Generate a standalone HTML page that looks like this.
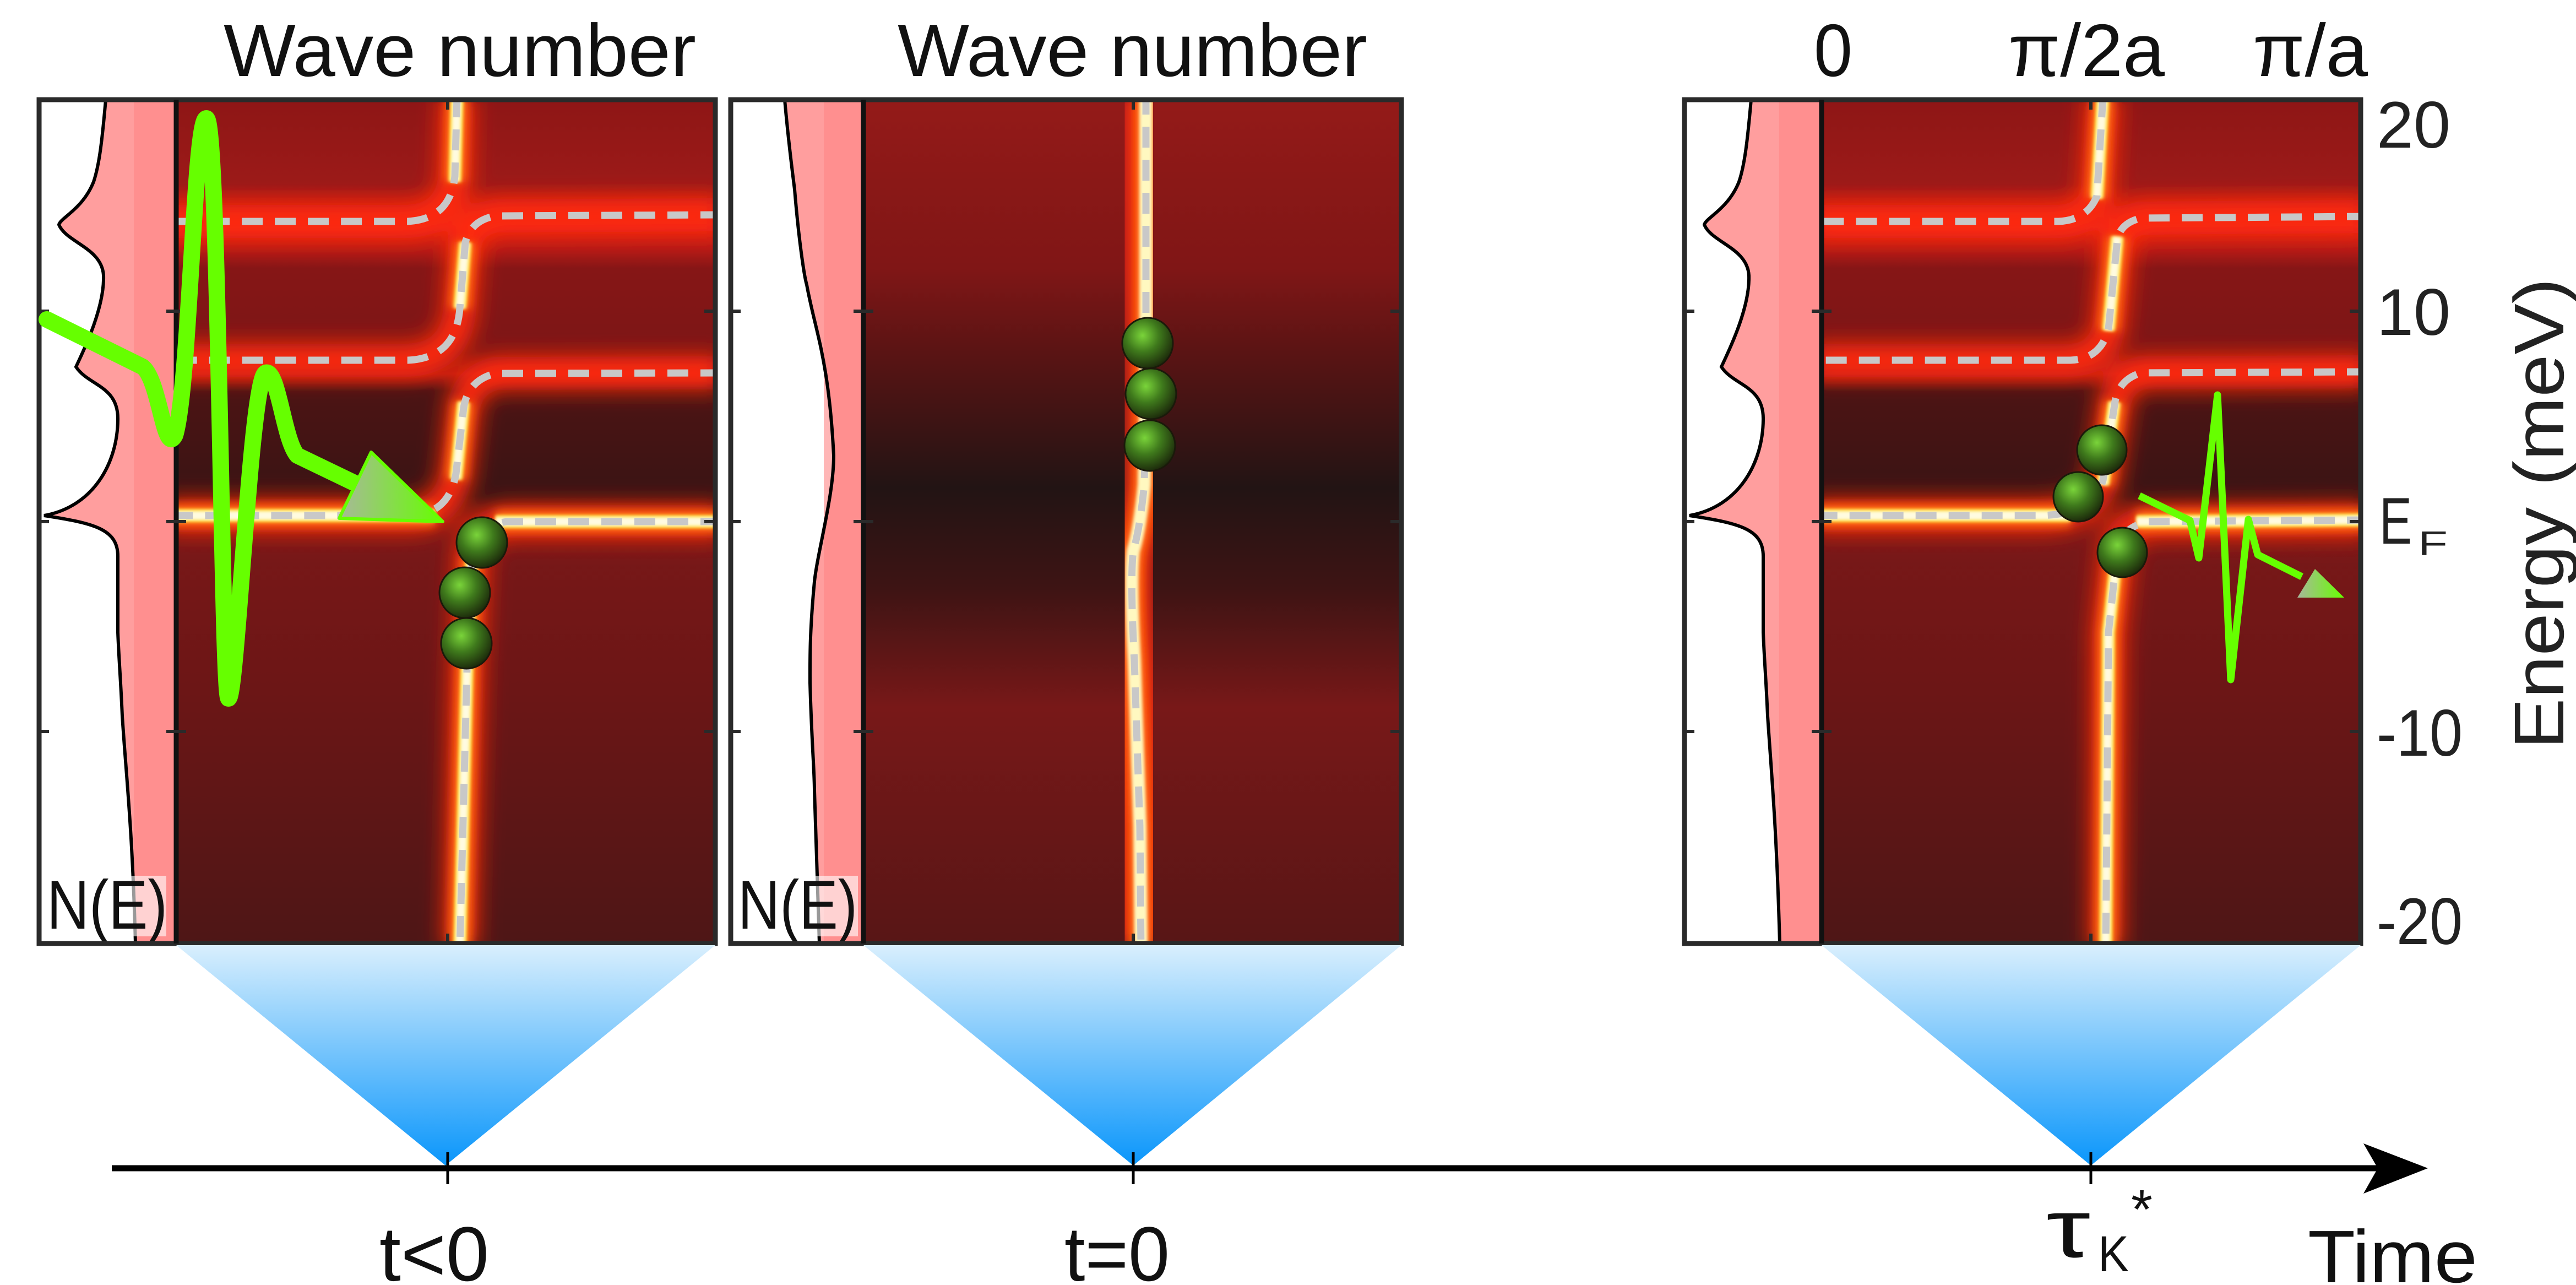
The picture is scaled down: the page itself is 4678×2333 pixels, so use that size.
<!DOCTYPE html>
<html><head><meta charset="utf-8"><style>html,body{margin:0;padding:0;background:#fff}svg{display:block}</style></head>
<body>
<svg xmlns="http://www.w3.org/2000/svg" width="4678" height="2333" viewBox="0 0 4678 2333" font-family="'Liberation Sans', 'DejaVu Sans', sans-serif">
<defs>
<filter id="b1" x="-50%" y="-50%" width="200%" height="200%"><feGaussianBlur stdDeviation="20"/></filter>
<filter id="b2" x="-50%" y="-50%" width="200%" height="200%"><feGaussianBlur stdDeviation="8"/></filter>
<filter id="b3" x="-50%" y="-50%" width="200%" height="200%"><feGaussianBlur stdDeviation="3"/></filter>
<linearGradient id="hm1" x1="0" y1="181" x2="0" y2="1713" gradientUnits="userSpaceOnUse">
<stop offset="0" stop-color="#8e1616"/><stop offset="0.1" stop-color="#9c1a18"/>
<stop offset="0.125" stop-color="#c01c16"/><stop offset="0.15" stop-color="#e02018"/><stop offset="0.18" stop-color="#b01a16"/>
<stop offset="0.2" stop-color="#861616"/><stop offset="0.3" stop-color="#7c1616"/><stop offset="0.325" stop-color="#b01a16"/>
<stop offset="0.345" stop-color="#4c1414"/><stop offset="0.47" stop-color="#3a1414"/><stop offset="0.5" stop-color="#7a1818"/>
<stop offset="0.7" stop-color="#6c1616"/><stop offset="1" stop-color="#4e1616"/></linearGradient>
<linearGradient id="hm2" x1="0" y1="181" x2="0" y2="1713" gradientUnits="userSpaceOnUse">
<stop offset="0" stop-color="#941a18"/><stop offset="0.2" stop-color="#801616"/><stop offset="0.3" stop-color="#5a1414"/>
<stop offset="0.46" stop-color="#221414"/><stop offset="0.58" stop-color="#3e1414"/><stop offset="0.72" stop-color="#781818"/>
<stop offset="1" stop-color="#581616"/></linearGradient>
<linearGradient id="tri" x1="0" y1="1716" x2="0" y2="2116" gradientUnits="userSpaceOnUse">
<stop offset="0" stop-color="#d9effd"/><stop offset="1" stop-color="#0a96fb"/></linearGradient>
<radialGradient id="ball" cx="0.4" cy="0.35" r="0.65"><stop offset="0" stop-color="#7ad43a"/><stop offset="0.5" stop-color="#3f7a1c"/><stop offset="1" stop-color="#1e2e0c"/></radialGradient>
<linearGradient id="arr" x1="0" y1="0" x2="1" y2="0"><stop offset="0" stop-color="#a8b89a"/><stop offset="1" stop-color="#66ff00"/></linearGradient>
<clipPath id="c1"><rect x="320" y="181" width="979" height="1532"/></clipPath>
<clipPath id="c2"><rect x="1568" y="181" width="977" height="1532"/></clipPath>
<clipPath id="c3"><rect x="3308" y="181" width="979" height="1532"/></clipPath>
</defs>

<g font-size="135" fill="#111">
<text x="406" y="138" textLength="858" lengthAdjust="spacingAndGlyphs">Wave number</text>
<text x="1630" y="138" textLength="853" lengthAdjust="spacingAndGlyphs">Wave number</text>
<text x="3294" y="138" textLength="70" lengthAdjust="spacingAndGlyphs">0</text>
<text x="3647" y="138" textLength="284" lengthAdjust="spacingAndGlyphs">π/2a</text>
<text x="4091" y="138" textLength="209" lengthAdjust="spacingAndGlyphs">π/a</text>
</g>

<!-- PANEL 1 -->
<rect x="71" y="181" width="249" height="1532" fill="#fff"/>
<path d="M192,181 C185,260 180,300 170,330 C150,380 110,395 107,408 C120,440 185,450 188,500 C190,560 150,640 138,666 C160,700 214,700 214,760 C214,840 170,920 80,936 C170,950 214,960 214,1010 L214,1148 C216,1200 219,1230 222,1300 C230,1420 240,1500 246,1713 L320,1713 L320,181 Z" fill="#ff9e9e"/>
<rect x="243" y="181" width="77" height="1532" fill="#ff8585" opacity="0.6"/>
<path d="M192,181 C185,260 180,300 170,330 C150,380 110,395 107,408 C120,440 185,450 188,500 C190,560 150,640 138,666 C160,700 214,700 214,760 C214,840 170,920 80,936 C170,950 214,960 214,1010 L214,1148 C216,1200 219,1230 222,1300 C230,1420 240,1500 246,1713" fill="none" stroke="#000" stroke-width="6"/>
<rect x="77" y="1590" width="225" height="110" fill="#fff" opacity="0.6"/>
<text x="85" y="1686" font-size="125" fill="#111" textLength="219" lengthAdjust="spacingAndGlyphs">N(E)</text>

<g clip-path="url(#c1)">
<rect x="320" y="181" width="979" height="1532" fill="url(#hm1)"/>
<g id="p1lines" fill="none">
<path d="M830,175 L826,320 Q818,398 740,402 L300,402"/>
<path d="M1310,390 L900,392 Q855,400 845,440 L835,560 Q828,650 741,654 L300,654"/>
<path d="M1310,677 L900,678 Q850,690 842,740 L828,860 Q815,936 740,936 L300,936"/>
<path d="M1310,947 L920,947 Q865,955 857,1010 L848,1217 L835,1720"/>
</g>
<g id="p1core" fill="none">
<path d="M830,175 L826,330 M845,440 L835,560 M842,730 L828,870 M857,1010 L848,1217 L835,1720 M790,936 L300,936 M1310,947 L900,947"/>
</g>
<use href="#p1lines" stroke="#ff2a10" stroke-width="60" filter="url(#b1)" fill="none"/>
<use href="#p1core" stroke="#ff6a10" stroke-width="40" filter="url(#b2)"/>
<use href="#p1core" stroke="#ffe040" stroke-width="24" filter="url(#b3)"/>
<use href="#p1core" stroke="#fffbe0" stroke-width="16" filter="url(#b3)"/>
<use href="#p1lines" stroke="#c8c8c8" stroke-width="13" stroke-dasharray="38 22" fill="none"/>
</g>

<!-- PANEL 2 -->
<rect x="1327" y="181" width="241" height="1532" fill="#fff"/>
<path d="M1425,181 C1432,260 1440,320 1443,344 C1450,430 1460,500 1465,517 C1480,600 1505,650 1514,827 C1514,900 1485,1000 1479,1056 C1470,1150 1471,1200 1471,1240 C1474,1350 1479,1400 1479,1435 L1488,1713 L1568,1713 L1568,181 Z" fill="#ff9e9e"/>
<rect x="1496" y="181" width="72" height="1532" fill="#ff8585" opacity="0.6"/>
<path d="M1425,181 C1432,260 1440,320 1443,344 C1450,430 1460,500 1465,517 C1480,600 1505,650 1514,827 C1514,900 1485,1000 1479,1056 C1470,1150 1471,1200 1471,1240 C1474,1350 1479,1400 1479,1435 L1488,1713" fill="none" stroke="#000" stroke-width="6"/>
<rect x="1333" y="1590" width="225" height="110" fill="#fff" opacity="0.6"/>
<text x="1340" y="1686" font-size="125" fill="#111" textLength="217" lengthAdjust="spacingAndGlyphs">N(E)</text>

<g clip-path="url(#c2)">
<rect x="1568" y="181" width="977" height="1532" fill="url(#hm2)"/>
<g id="p2lines" fill="none"><path d="M2081,170 L2081,700 L2078,880 Q2070,960 2058,1000 Q2052,1050 2060,1200 L2070,1500 L2072,1720"/></g>
<use href="#p2lines" stroke="#ff2a10" stroke-width="80" filter="url(#b1)"/>
<use href="#p2lines" stroke="#ff7010" stroke-width="40" filter="url(#b2)"/>
<use href="#p2lines" stroke="#fff8c0" stroke-width="24" filter="url(#b3)"/>
<use href="#p2lines" stroke="#c8c8c8" stroke-width="13" stroke-dasharray="38 22"/>
</g>

<!-- PANEL 3 -->
<rect x="3059" y="181" width="249" height="1532" fill="#fff"/>
<path d="M3180,181 C3173,260 3168,300 3158,330 C3138,380 3098,395 3095,408 C3108,440 3173,450 3176,500 C3178,560 3138,640 3126,666 C3148,700 3202,700 3202,760 C3202,840 3158,920 3068,936 C3158,950 3202,960 3202,1010 L3202,1148 C3204,1200 3207,1230 3210,1300 C3218,1420 3226,1500 3232,1713 L3308,1713 L3308,181 Z" fill="#ff9e9e"/>
<rect x="3231" y="181" width="77" height="1532" fill="#ff8585" opacity="0.6"/>
<path d="M3180,181 C3173,260 3168,300 3158,330 C3138,380 3098,395 3095,408 C3108,440 3173,450 3176,500 C3178,560 3138,640 3126,666 C3148,700 3202,700 3202,760 C3202,840 3158,920 3068,936 C3158,950 3202,960 3202,1010 L3202,1148 C3204,1200 3207,1230 3210,1300 C3218,1420 3226,1500 3232,1713" fill="none" stroke="#000" stroke-width="6"/>

<g clip-path="url(#c3)">
<rect x="3308" y="181" width="979" height="1532" fill="url(#hm1)"/>
<g id="p3lines" fill="none">
<path d="M3819,175 L3808,356 Q3790,400 3738,402 L3290,402"/>
<path d="M4300,393 L3888,396 Q3850,405 3845,436 L3829,597 Q3815,652 3760,654 L3290,654"/>
<path d="M4300,675 L3888,677 Q3845,690 3840,735 L3819,872 Q3800,934 3706,936 L3290,936"/>
<path d="M4300,944 L3899,947 Q3850,960 3845,999 L3829,1148 L3824,1720"/>
</g>
<g id="p3core" fill="none">
<path d="M3819,175 L3808,360 M3845,430 L3829,600 M3840,730 L3819,880 M3845,999 L3829,1148 L3824,1720 M3760,936 L3290,936 M4300,944 L3880,947"/>
</g>
<use href="#p3lines" stroke="#ff2a10" stroke-width="60" filter="url(#b1)"/>
<use href="#p3core" stroke="#ff6a10" stroke-width="40" filter="url(#b2)"/>
<use href="#p3core" stroke="#ffe040" stroke-width="24" filter="url(#b3)"/>
<use href="#p3core" stroke="#fffbe0" stroke-width="16" filter="url(#b3)"/>
<use href="#p3lines" stroke="#c8c8c8" stroke-width="13" stroke-dasharray="38 22"/>
</g>

<g fill="none" stroke="#2a2a2a" stroke-width="9">
<rect x="71" y="181" width="1228" height="1532"/>
<line x1="320" y1="181" x2="320" y2="1713" stroke="#111"/>
<rect x="1327" y="181" width="1218" height="1532"/>
<line x1="1568" y1="181" x2="1568" y2="1713" stroke="#111"/>
<rect x="3059" y="181" width="1228" height="1532"/>
<line x1="3308" y1="181" x2="3308" y2="1713" stroke="#111"/>
</g>
<g stroke="#2a2a2a" stroke-width="6">
<path d="M71,565 h18 M71,947 h18 M71,1328 h18 M302,565 h36 M302,947 h36 M302,1328 h36 M1299,565 h-20 M1299,947 h-20 M1299,1328 h-20 M813,181 v18 M813,1713 v-18"/>
<path d="M1327,565 h18 M1327,947 h18 M1327,1328 h18 M1550,565 h36 M1550,947 h36 M1550,1328 h36 M2545,565 h-20 M2545,947 h-20 M2545,1328 h-20 M2058,181 v18 M2058,1713 v-18"/>
<path d="M3059,565 h18 M3059,947 h18 M3059,1328 h18 M3290,565 h36 M3290,947 h36 M3290,1328 h36 M4287,565 h-20 M4287,947 h-20 M4287,1328 h-20 M3797,181 v18 M3797,1713 v-18"/>
</g>

<path d="M85,580 L259,666 C290,690 298,830 318,790 C345,700 352,210 375,215 C398,220 402,1268 415,1268 C430,1268 455,690 482,677 C505,668 515,800 540,827 L650,880" fill="none" stroke="#66ff00" stroke-width="30" stroke-linejoin="round" stroke-linecap="round"/>
<path d="M616,941 L674,821 L804,947 Z" fill="url(#arr)" stroke="#66ff00" stroke-width="6" stroke-linejoin="round"/>

<path d="M3885,900 L3977,945 L3993,1013 L4027,717 L4051,1234 L4083,943 L4100,1007 L4180,1047" fill="none" stroke="#66ff00" stroke-width="13" stroke-linejoin="round"/>
<path d="M4172,1085 L4204,1033 L4257,1085 Z" fill="url(#arr)"/>

<g stroke="#1a1a0a" stroke-width="3" fill="url(#ball)">
<circle cx="875" cy="985" r="46"/><circle cx="844" cy="1076" r="46"/><circle cx="847" cy="1168" r="46"/>
<circle cx="2084" cy="623" r="46"/><circle cx="2090" cy="715" r="46"/><circle cx="2088" cy="809" r="46"/>
<circle cx="3817" cy="817" r="45"/><circle cx="3774" cy="902" r="45"/><circle cx="3854" cy="1003" r="45"/>
</g>

<g font-size="120" fill="#222">
<text x="4316" y="268" textLength="134" lengthAdjust="spacingAndGlyphs">20</text>
<text x="4316" y="608" textLength="134" lengthAdjust="spacingAndGlyphs">10</text>
<text x="4321" y="987" textLength="59" lengthAdjust="spacingAndGlyphs">E</text>
<text x="4391" y="1008" font-size="62" textLength="54" lengthAdjust="spacingAndGlyphs">F</text>
<text x="4316" y="1372" textLength="156" lengthAdjust="spacingAndGlyphs">-10</text>
<text x="4316" y="1714" textLength="156" lengthAdjust="spacingAndGlyphs">-20</text>
<text transform="translate(4655,1360) rotate(-90)" font-size="128" textLength="855" lengthAdjust="spacingAndGlyphs">Energy (meV)</text>
</g>

<polygon points="320,1716 1299,1716 809,2116" fill="url(#tri)"/>
<polygon points="1568,1716 2545,1716 2058,2116" fill="url(#tri)"/>
<polygon points="3308,1716 4287,1716 3797,2116" fill="url(#tri)"/>

<line x1="203" y1="2121" x2="4330" y2="2121" stroke="#000" stroke-width="11"/>
<polygon points="4292,2076 4409,2121 4292,2167 4318,2121" fill="#000"/>
<g stroke="#000" stroke-width="5"><line x1="813" y1="2092" x2="813" y2="2150"/><line x1="2058" y1="2092" x2="2058" y2="2150"/><line x1="3797" y1="2092" x2="3797" y2="2150"/></g>
<g fill="#111">
<text x="689" y="2325" font-size="140" textLength="199" lengthAdjust="spacingAndGlyphs">t&lt;0</text>
<text x="1933" y="2325" font-size="140" textLength="191" lengthAdjust="spacingAndGlyphs">t=0</text>
<text x="3716" y="2282" font-size="150" textLength="80" lengthAdjust="spacingAndGlyphs">τ</text>
<text x="3810" y="2308" font-size="92" textLength="56" lengthAdjust="spacingAndGlyphs">K</text>
<text x="3870" y="2230" font-size="100">*</text>
<text x="4191" y="2328" font-size="135" textLength="308" lengthAdjust="spacingAndGlyphs">Time</text>
</g>
</svg>
</body></html>
